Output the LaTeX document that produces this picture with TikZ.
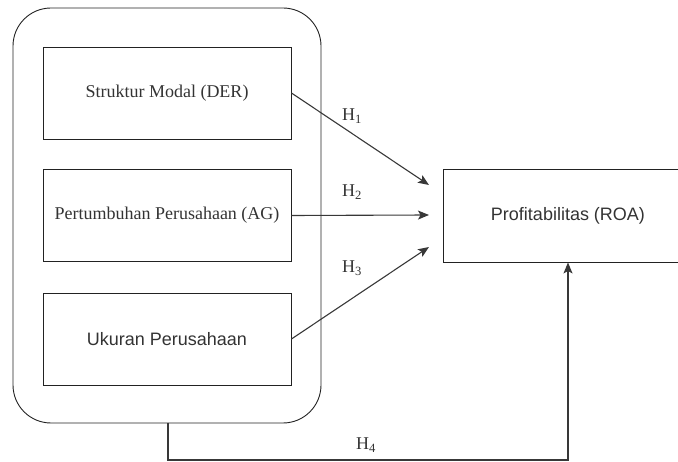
\documentclass[tikz,border=0pt]{standalone}
\usepackage{fontspec}
\setmainfont{Liberation Serif}
\newfontfamily\arialfont{Liberation Sans}
\usetikzlibrary{arrows.meta}
\definecolor{ink}{HTML}{222222}
\definecolor{txt}{HTML}{333333}
\begin{document}
\begin{tikzpicture}[x=1pt,y=-1pt,
  box/.style={draw=ink,line width=0.9pt,minimum width=248pt,minimum height=92pt,inner sep=0pt,text=txt,font=\fontsize{18}{20}\selectfont},
  sansbox/.style={box,font=\arialfont\fontsize{18}{20}\selectfont},
  link/.style={draw=ink!90,line width=1.1pt,-{Stealth[length=11pt,width=9pt,inset=2.5pt]}},
  hlab/.style={text=txt,inner sep=0pt,font=\fontsize{18}{20}\selectfont}]
\useasboundingbox (0,0) rectangle (678,462);
\draw[ink,line width=0.9pt,rounded corners=38pt] (13,8) rectangle (321,423);
\coordinate (outerbot) at (168,423);
\node[box] (der) at (167,93) {Struktur Modal (DER)};
\node[box] (ag) at (167,215.5) {Pertumbuhan Perusahaan (AG)};
\node[sansbox] (uk) at (167,339) {Ukuran Perusahaan};
\node[sansbox,draw=none] (roa) at (568,216) {Profitabilitas (ROA)};
\draw[ink,line width=0.9pt] (roa.north east) -- (roa.north west) -- (roa.south west) -- (roa.south east);
\coordinate (t1) at (429,185);
\coordinate (t2) at (429,215);
\coordinate (t3) at (429,247);
\draw[link] (der.east) -- (t1);
\draw[link] (ag.east) -- (t2);
\draw[link] (uk.east) -- (t3);
\coordinate (c1) at (168,460);
\coordinate (c2) at (568,460);
\draw[link] (outerbot) -- (c1) -- (c2) -- (roa.south -| c2);
\node[hlab] (h1) at (352,116) {H\textsubscript{1}};
\node[hlab] (h2) at (352,192) {H\textsubscript{2}};
\node[hlab] (h3) at (352,268) {H\textsubscript{3}};
\node[hlab] (h4) at (366,445) {H\textsubscript{4}};
\end{tikzpicture}
\end{document}
